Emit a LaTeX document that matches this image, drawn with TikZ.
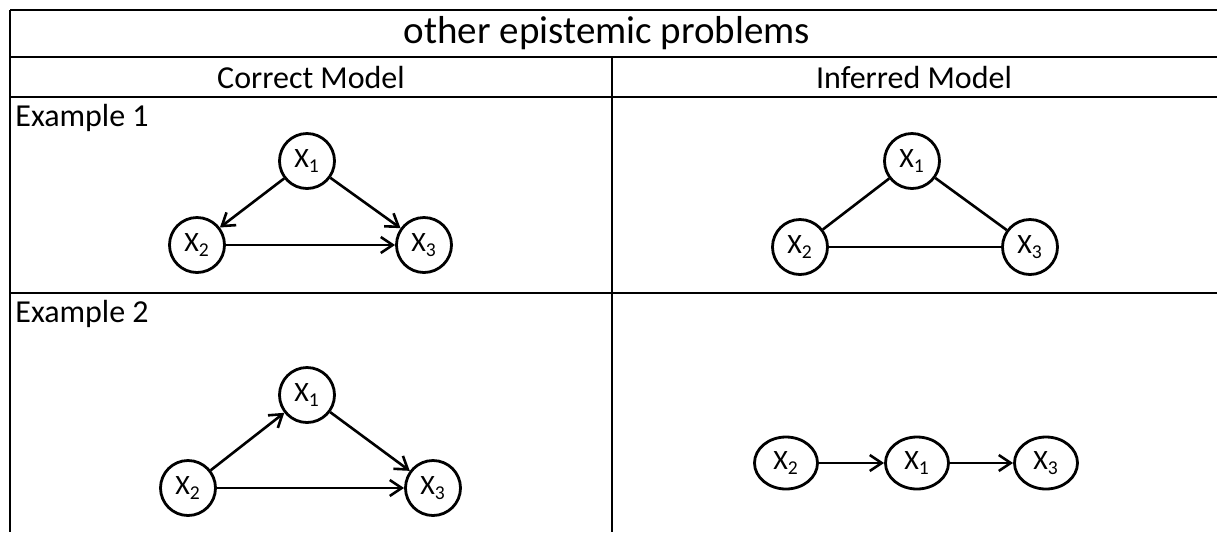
\documentclass[tikz,border=0pt]{standalone}
\usepackage{fontspec}
\setmainfont{Carlito}
\usetikzlibrary{positioning,shapes.geometric,arrows.meta}
\newcommand{\xvar}[1]{X\textsubscript{#1}}

\begin{document}
\begin{tikzpicture}[x=0.5pt,y=-0.5pt]
\tikzset{
    var/.style={circle, draw=black, line width=1.4pt, minimum size=27.5pt, inner sep=0pt, font=\fontsize{14}{16}\selectfont},
    varoval/.style={ellipse, draw=black, line width=1.4pt, minimum width=31.5pt, minimum height=26pt, inner sep=0pt, font=\fontsize{14}{16}\selectfont},
    edge/.style={line width=1.3pt, -{Straight Barb[length=6pt,width=8pt,line width=1.3pt]}},
    grid/.style={line width=1.3pt},
    head/.style={font=\fontsize{16}{19}\selectfont}
}
\useasboundingbox (0,0) rectangle (1217,532);

% table
\draw[grid] (10,10) -- (1217,10);
\draw[grid] (10,57) -- (1217,57);
\draw[grid] (10,97) -- (1217,97);
\draw[grid] (10,293) -- (1217,293);
\draw[grid] (10,10) -- (10,532);
\draw[grid] (612,57) -- (612,532);

\node[font=\fontsize{19.5}{22}\selectfont] (title) at (607,33) {other epistemic problems};
\node[head] (correct) at (311,77) {Correct Model};
\node[head] (inferred) at (914,77) {Inferred Model};
\node[head, anchor=west, inner sep=1pt] (ex1) at (13,118) {Example 1};
\node[head, anchor=west, inner sep=1pt] (ex2) at (13,314) {Example 2};

% example 1, correct
\node[var] (a1) at (307,161) {\xvar{1}};
\node[var] (a2) at (197,245) {\xvar{2}};
\node[var] (a3) at (424,245) {\xvar{3}};
\draw[edge] (a1) -- (a2);
\draw[edge] (a1) -- (a3);
\draw[edge] (a2) -- (a3);

% example 1, inferred
\node[var] (b1) at (912,161) {\xvar{1}};
\node[var] (b2) at (800,247) {\xvar{2}};
\node[var] (b3) at (1030,247) {\xvar{3}};
\draw[line width=1.3pt] (b1) -- (b2);
\draw[line width=1.3pt] (b1) -- (b3);
\draw[line width=1.3pt] (b2) -- (b3);

% example 2, correct
\node[var] (c1) at (307,395) {\xvar{1}};
\node[var] (c2) at (188,488) {\xvar{2}};
\node[var] (c3) at (433,488) {\xvar{3}};
\draw[edge] (c2) -- (c1);
\draw[edge] (c1) -- (c3);
\draw[edge] (c2) -- (c3);

% example 2, inferred
\node[varoval] (d2) at (786,463) {\xvar{2}};
\node[varoval] (d1) at (917,463) {\xvar{1}};
\node[varoval] (d3) at (1046,463) {\xvar{3}};
\draw[edge] (d2) -- (d1);
\draw[edge] (d1) -- (d3);
\end{tikzpicture}
\end{document}
